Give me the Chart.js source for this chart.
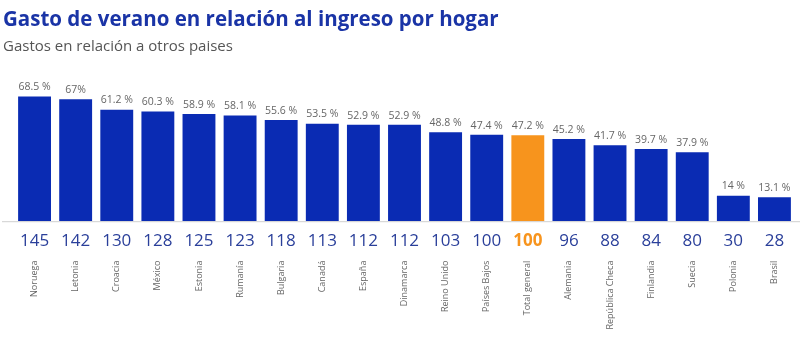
<!DOCTYPE html>
<html>
<head>
<meta charset="utf-8">
<script src="https://cdn.jsdelivr.net/npm/chart.js@4"></script>
<style>
  html, body { margin: 0; padding: 0; background: #fff; }
  #wrap { width: 800px; height: 340px; }
</style>
</head>
<body>
<div id="wrap"><canvas id="chart"></canvas></div>
<script>
const paises = ["Noruega", "Letonia", "Croacia", "México", "Estonia", "Rumanía", "Bulgaria", "Canadá", "España", "Dinamarca",
    "Reino Unido", "Países Bajos", "Total general", "Alemania", "República Checa", "Finlandia", "Suecia", "Polonia", "Brasil"];
const gastoPct = [68.5, 67, 61.2, 60.3, 58.9, 58.1, 55.6, 53.5, 52.9, 52.9, 48.8, 47.4, 47.2, 45.2, 41.7, 39.7, 37.9, 14, 13.1];
const etiquetaPct = ["68.5 %", "67%", "61.2 %", "60.3 %", "58.9 %", "58.1 %", "55.6 %", "53.5 %", "52.9 %", "52.9 %",
    "48.8 %", "47.4 %", "47.2 %", "45.2 %", "41.7 %", "39.7 %", "37.9 %", "14 %", "13.1 %"];
const indice = [145, 142, 130, 128, 125, 123, 118, 113, 112, 112, 103, 100, 100, 96, 88, 84, 80, 30, 28];
const totalIdx = paises.indexOf("Total general");

const AZUL = "#0a2bb3";
const NARANJA = "#f7941d";

// value labels over each bar + full-width baseline
const etiquetas = {
    id: "etiquetas",
    afterDatasetsDraw(chart) {
        const ctx = chart.ctx;
        const meta = chart.getDatasetMeta(0);
        ctx.save();
        ctx.font = "10.5px 'Open Sans'";
        ctx.fillStyle = "#666";
        ctx.textAlign = "center";
        ctx.textBaseline = "bottom";
        meta.data.forEach((bar, i) => {
            ctx.fillText(etiquetaPct[i], bar.x, bar.y - 4);
        });
        ctx.strokeStyle = "#cfcfcf";
        ctx.lineWidth = 1;
        ctx.beginPath();
        ctx.moveTo(2, chart.chartArea.bottom + 0.5);
        ctx.lineTo(chart.width, chart.chartArea.bottom + 0.5);
        ctx.stroke();
        ctx.restore();
    }
};

new Chart("chart", {
    type: "bar",
    data: {
        labels: paises,
        datasets: [{
            data: gastoPct,
            backgroundColor: paises.map((p, i) => i === totalIdx ? NARANJA : AZUL),
            categoryPercentage: 1,
            barPercentage: 0.8,
            xAxisID: "x"
        }]
    },
    options: {
        responsive: true,
        maintainAspectRatio: false,
        animation: false,
        layout: { padding: { left: 3, right: 5, bottom: 10.5 } },
        plugins: {
            legend: { display: false },
            tooltip: { enabled: false },
            title: {
                display: true,
                text: "Gasto de verano en relación al ingreso por hogar",
                align: "start",
                color: "#1a34a6",
                font: { family: "'Open Sans'", size: 20.5, weight: "bold" },
                padding: { top: 8, bottom: 5 }
            },
            subtitle: {
                display: true,
                text: "Gastos en relación a otros paises",
                align: "start",
                color: "#555",
                font: { family: "'Open Sans'", size: 15 },
                padding: { top: 0, bottom: 29 }
            }
        },
        scales: {
            y: {
                display: true,
                min: 0,
                max: 75,
                grid: { display: false },
                border: { display: false },
                ticks: { display: false },
                afterFit(scale) { scale.width = 11; }
            },
            xNum: {
                type: "category",
                labels: indice.map(String),
                position: "bottom",
                weight: 0,
                offset: true,
                grid: { display: false, drawTicks: false },
                border: { display: false },
                ticks: {
                    padding: 9.5,
                    autoSkip: false,
                    maxRotation: 0,
                    color: ctx => ctx.index === totalIdx ? NARANJA : "#2a3f9a",
                    font: ctx => ({ family: "'Open Sans'", size: 17, weight: ctx.index === totalIdx ? "bold" : "normal" })
                }
            },
            x: {
                position: "bottom",
                weight: 1,
                offset: true,
                grid: { display: false, drawTicks: false },
                border: { display: false },
                ticks: {
                    padding: 0,
                    autoSkip: false,
                    minRotation: 90,
                    maxRotation: 90,
                    color: "#666",
                    font: { family: "'Open Sans'", size: 9 }
                }
            }
        }
    },
    plugins: [etiquetas]
});
</script>
</body>
</html>
